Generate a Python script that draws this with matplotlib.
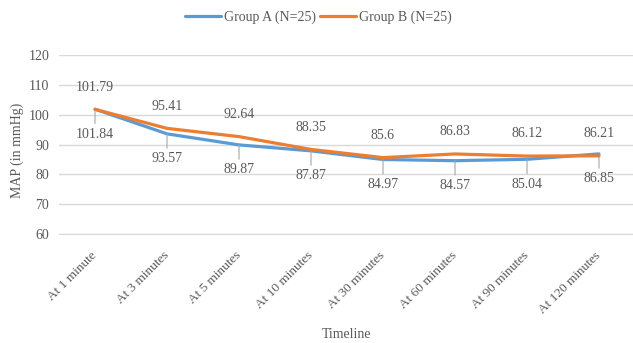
import matplotlib
matplotlib.use("Agg")
import matplotlib.pyplot as plt
import matplotlib.transforms as mtransforms
import numpy as np

# data
timeline = ['At 1 minute', 'At 3 minutes', 'At 5 minutes', 'At 10 minutes',
            'At 30 minutes', 'At 60 minutes', 'At 90 minutes', 'At 120 minutes']
group_a = [101.84, 93.57, 89.87, 87.87, 84.97, 84.57, 85.04, 86.85]
group_b = [101.79, 95.41, 92.64, 88.35, 85.6, 86.83, 86.12, 86.21]
labels = ['Group A (N=25)', 'Group B (N=25)']
y_ticks = [60, 70, 80, 90, 100, 110, 120]

blue = '#5B9BD5'
orange = '#ED7D31'
grey_txt = '#595959'
fs = 10

plt.rcParams['font.family'] = ['Liberation Serif', 'DejaVu Serif']

fig = plt.figure(figsize=(6.33, 3.43), dpi=100)
ax = fig.add_axes([59/633, 1-234/343, 576/633, 179/343])

x = np.arange(len(timeline))
la, = ax.plot(x, group_a, color=blue, lw=2.3, solid_capstyle='round', label=labels[0], zorder=3)
lb, = ax.plot(x, group_b, color=orange, lw=2.3, solid_capstyle='round', label=labels[1], zorder=4)

# data labels: B above, A below with leader lines
for xi, v in zip(x, group_b):
    ax.annotate(f'{v:g}', (xi, v), xytext=(0, 16), textcoords='offset points',
                ha='center', va='center', fontsize=fs, color=grey_txt)
for xi, v in zip(x, group_a):
    ax.annotate(f'{v:g}', (xi, v), xytext=(0, -18), textcoords='offset points',
                ha='center', va='center', fontsize=fs, color=grey_txt,
                arrowprops=dict(arrowstyle='-', color='#a6a6a6', lw=0.8,
                                shrinkA=1, shrinkB=0))

ax.set_xlim(-0.5, len(timeline) - 0.5)
ax.set_ylim(60, 120)
ax.set_yticks(y_ticks)
ax.set_yticklabels([str(t) for t in y_ticks], fontsize=fs, color=grey_txt)
ax.set_xticks(x)
ax.set_xticklabels(timeline, rotation=45, ha='right', va='center',
                   rotation_mode='anchor', fontsize=fs - 0.5, color=grey_txt)
shift = mtransforms.ScaledTranslation(3/100, 0, fig.dpi_scale_trans)
for t in ax.get_xticklabels():
    t.set_transform(t.get_transform() + shift)
ax.tick_params(axis='both', length=0)
ax.tick_params(axis='x', pad=14)
ax.tick_params(axis='y', pad=7)
ax.grid(axis='y', color='#d9d9d9', lw=1)
ax.set_axisbelow(True)
for s in ['left', 'right', 'top']:
    ax.spines[s].set_visible(False)
ax.spines['bottom'].set_color('#d9d9d9')

fig.text(17/633, 1-150/343, 'MAP (in mmHg)', rotation=90, ha='center', va='center',
         fontsize=fs, color=grey_txt)
fig.text(347/633, 1-335/343, 'Timeline', ha='center', va='center', fontsize=fs, color=grey_txt)

fig.legend(handles=[la, lb], loc='center', bbox_to_anchor=(318/633, 1-17/343), ncol=2,
           frameon=False, fontsize=fs, handlelength=2.6, handletextpad=0.2,
           columnspacing=0.3, labelcolor=grey_txt)

fig.savefig('out.png', dpi=100)
